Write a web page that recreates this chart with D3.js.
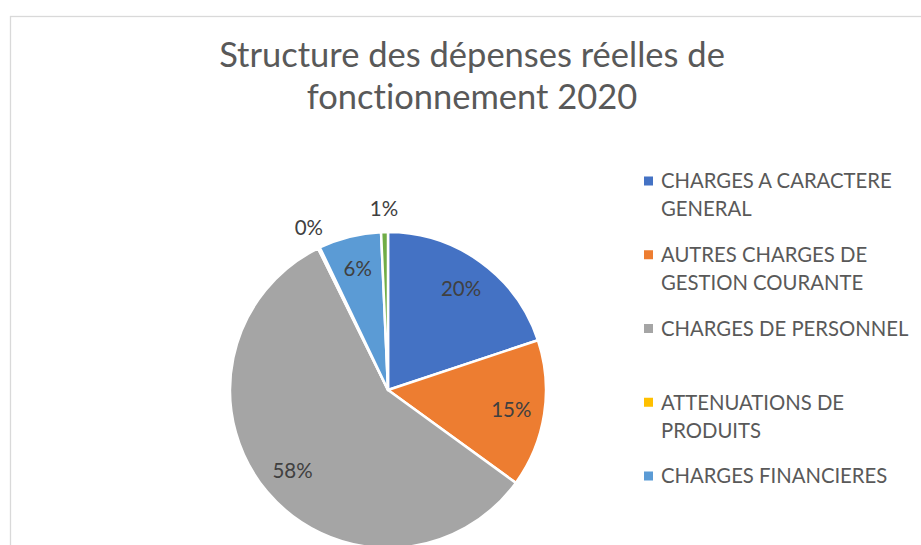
<!DOCTYPE html>
<html>
<head>
<meta charset="utf-8">
<script src="https://cdn.jsdelivr.net/npm/d3@7"></script>
<style>
  html, body { margin: 0; padding: 0; background: #fff; overflow: hidden; }
  text { font-family: Lato, "Open Sans", sans-serif; fill: #595959; font-variant-ligatures: none; }
</style>
</head>
<body>
<svg id="chart"></svg>
<script>
// Données (en %)
const categories = [
  "CHARGES A CARACTERE GENERAL",
  "AUTRES CHARGES DE GESTION COURANTE",
  "CHARGES DE PERSONNEL",
  "ATTENUATIONS DE PRODUITS",
  "CHARGES FINANCIERES",
  "CHARGES EXCEPTIONNELLES"
];
const values = [19.9, 15.1, 57.7, 0.2, 6.4, 0.7];
const colors = ["#4472C4", "#ED7D31", "#A5A5A5", "#FFC000", "#5B9BD5", "#70AD47"];
const titleLines = ["Structure des dépenses réelles de", "fonctionnement 2020"];

const W = 921, H = 545;
const cx = 388, cy = 390, R = 158;

const svg = d3.select("#chart").attr("width", W).attr("height", H);

// cadre du graphique
svg.append("rect")
  .attr("x", 10.5).attr("y", 16.5)
  .attr("width", W + 20).attr("height", H + 20)
  .attr("fill", "none").attr("stroke", "#d9d9d9").attr("stroke-width", 1.3);

// titre
svg.append("text")
  .attr("text-anchor", "middle")
  .style("font-size", "34.5px")
  .selectAll("tspan")
  .data(titleLines)
  .join("tspan")
  .attr("x", 472)
  .attr("y", (d, i) => 67 + i * 42)
  .text(d => d);

const data = categories.map((c, i) => ({ name: c, value: values[i], color: colors[i] }));

const pie = d3.pie().sort(null).value(d => d.value);
const arc = d3.arc().innerRadius(0).outerRadius(R);
const arcIn = d3.arc().innerRadius(R * 0.79).outerRadius(R * 0.79);
const arcOut = d3.arc().innerRadius(R + 23).outerRadius(R + 23);

const g = svg.append("g").attr("transform", `translate(${cx},${cy})`);
const arcs = pie(data);

g.selectAll("path")
  .data(arcs)
  .join("path")
  .attr("d", arc)
  .attr("fill", d => d.data.color)
  .attr("stroke", "#fff")
  .attr("stroke-width", 2.5)
  .attr("stroke-linejoin", "round");

// étiquettes de pourcentage
g.selectAll("text.lbl")
  .data(arcs)
  .join("text")
  .attr("class", "lbl")
  .attr("transform", d => `translate(${(d.data.value < 2 ? arcOut : arcIn).centroid(d)})`)
  .attr("text-anchor", "middle")
  .attr("dy", "0.36em")
  .style("font-size", "20.5px")
  .style("fill", "#404040")
  .text(d => Math.round(d.data.value) + "%");

// légende (la 6e entrée tombe sous le bord de l'image recadrée)
const legendY = d3.scaleLinear().domain([0, 1]).range([181, 254.75]);
const maxW = 262;

const leg = svg.append("g").selectAll("g")
  .data(data.slice(0, 5))
  .join("g")
  .attr("transform", (d, i) => `translate(644,${legendY(i)})`);

leg.append("rect")
  .attr("x", 0).attr("y", -4.5)
  .attr("width", 9).attr("height", 9)
  .attr("fill", d => d.color);

leg.append("text")
  .attr("x", 17)
  .style("font-size", "20.3px")
  .each(function (d) {
    const t = d3.select(this);
    const words = d.name.split(" ");
    let line = [], lineNo = 0;
    let tspan = t.append("tspan").attr("x", 17).attr("y", 0).attr("dy", "0.36em");
    words.forEach(w => {
      line.push(w);
      tspan.text(line.join(" "));
      if (tspan.node().getComputedTextLength() > maxW && line.length > 1) {
        line.pop();
        tspan.text(line.join(" "));
        line = [w];
        lineNo++;
        tspan = t.append("tspan").attr("x", 17).attr("y", lineNo * 28).attr("dy", "0.36em").text(w);
      }
    });
  });
</script>
</body>
</html>
